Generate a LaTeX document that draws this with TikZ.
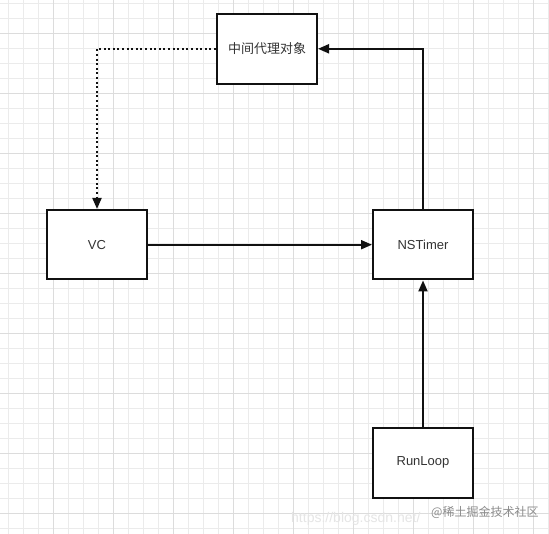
\documentclass[tikz,border=0pt]{standalone}
\usepackage{fontspec}
\setmainfont{Liberation Sans}
\newfontfamily\cjk{Noto Sans CJK SC}
\usetikzlibrary{arrows.meta}
\definecolor{minorgrid}{HTML}{EBEBEB}
\definecolor{majorgrid}{HTML}{DCDCDC}
\definecolor{ink}{HTML}{111111}
\definecolor{txt}{HTML}{333333}
\tikzset{
  box/.style={draw=ink, line width=2pt, fill=white, minimum width=100pt, minimum height=69.5pt,
    inner sep=0pt, text=txt, font=\fontsize{13}{15}\selectfont},
  conn/.style={draw=ink, line width=2pt, -{Triangle[length=11pt,width=9pt]}},
  dotconn/.style={conn, dash pattern=on 2pt off 2.6pt},
  wmark/.style={inner sep=0pt, anchor=base west},
}
\begin{document}
\begin{tikzpicture}[x=1pt,y=-1pt]
\useasboundingbox (0,0) rectangle (549,534);
\fill[white] (0,0) rectangle (549,534);
% grid
\foreach \i in {0,...,36} \draw[minorgrid, line width=0.8pt] ({8.33+15*\i},0) -- ({8.33+15*\i},534);
\foreach \i in {0,...,35} \draw[minorgrid, line width=0.8pt] (0,{3.33+15*\i}) -- (549,{3.33+15*\i});
\foreach \i in {0,...,8} \draw[majorgrid, line width=0.9pt] ({53.33+60*\i},0) -- ({53.33+60*\i},534);
\foreach \i in {0,...,8} \draw[majorgrid, line width=0.9pt] (0,{33.33+60*\i}) -- (549,{33.33+60*\i});
% watermark
\node[wmark, text=black!10, font=\fontsize{14}{16}\selectfont] (url) at (291,522) {https://blog.csdn.net/};
\node[wmark, text=black!45, font=\cjk\fontsize{12}{14}\selectfont] (wm) at (431,516) {@稀土掘金技术社区};
% nodes
\node[box, font=\cjk\fontsize{13}{15}\selectfont] (proxy) at (267,48.8) {中间代理对象};
\node[box] (vc) at (97,244.7) {VC};
\node[box] (timer) at (423,244.7) {NSTimer};
\node[box] (runloop) at (423,462.8) {RunLoop};
% connectors
\draw[conn] (timer.north) |- (proxy.east);
\draw[conn] (vc.east) -- (timer.west);
\draw[conn] (runloop.north) -- (timer.south);
\draw[dotconn] (proxy.west) -| (vc.north);
\end{tikzpicture}
\end{document}
